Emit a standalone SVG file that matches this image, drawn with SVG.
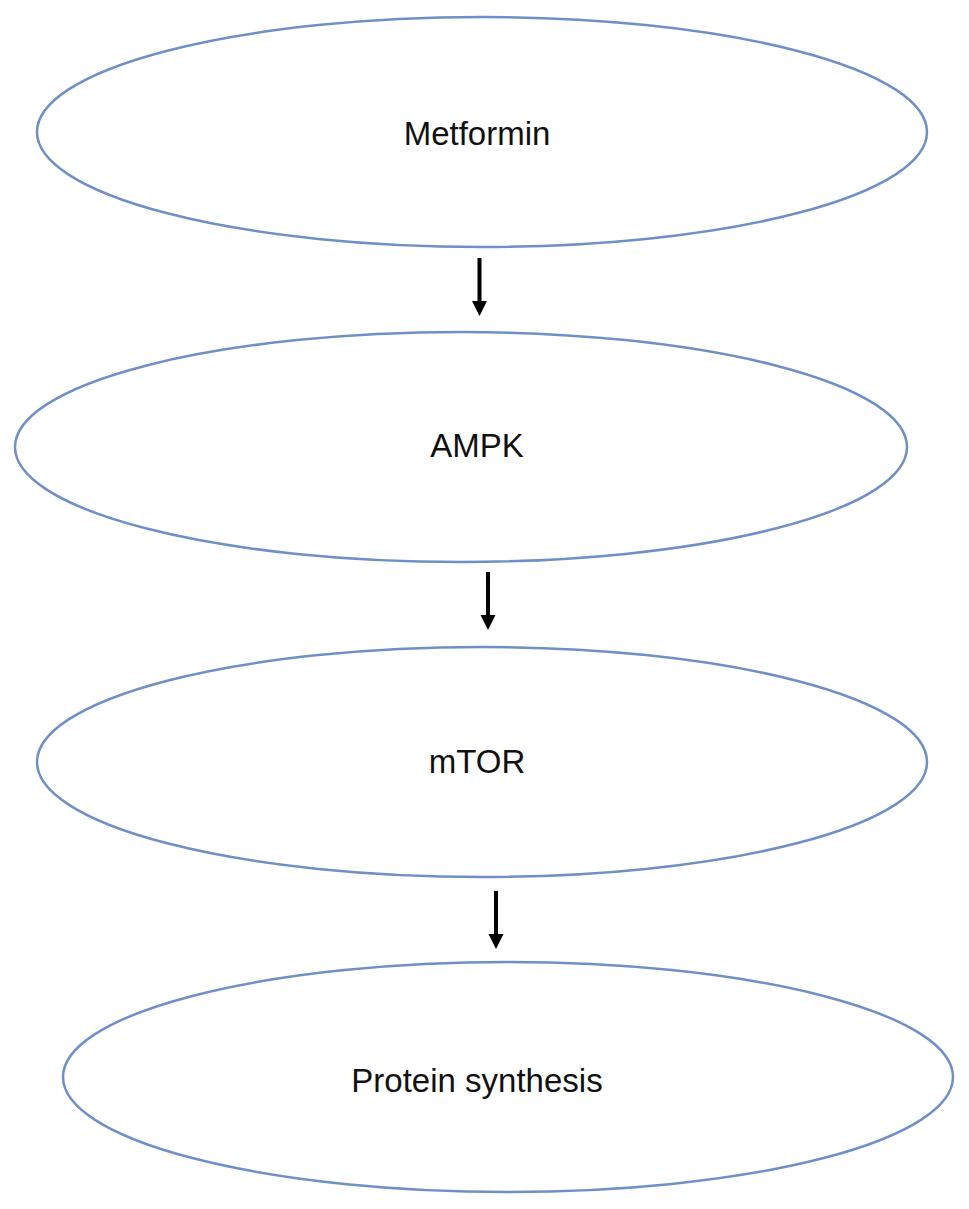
<svg xmlns="http://www.w3.org/2000/svg" width="969" height="1209" viewBox="0 0 969 1209">
  <defs>
    <style>
      .node ellipse { fill: #ffffff; stroke: #6f8fc6; stroke-width: 2.5; }
      .node text { font-family: "Liberation Sans", Arial, sans-serif; font-size: 33px; fill: #111111; text-anchor: middle; }
      .conn line { stroke: #000000; stroke-width: 4; }
      .conn polygon { fill: #000000; }
    </style>
  </defs>
  <rect width="969" height="1209" fill="#ffffff"/>
  <g id="metformin" class="node">
    <ellipse cx="482" cy="132" rx="445" ry="115"/>
    <text x="477" y="145">Metformin</text>
  </g>
  <g id="ampk" class="node">
    <ellipse cx="461" cy="447" rx="446" ry="115"/>
    <text x="477" y="457">AMPK</text>
  </g>
  <g id="mtor" class="node">
    <ellipse cx="482" cy="762" rx="445" ry="115"/>
    <text x="477" y="773">mTOR</text>
  </g>
  <g id="protein" class="node">
    <ellipse cx="508" cy="1077" rx="445" ry="115"/>
    <text x="477" y="1092">Protein synthesis</text>
  </g>
  <g id="connectors" class="conn">
    <line x1="479.5" y1="258" x2="479.5" y2="303"/>
    <polygon points="472,301 487,301 479.5,316"/>
    <line x1="488" y1="572" x2="488" y2="617"/>
    <polygon points="480.5,615 495.5,615 488,630"/>
    <line x1="496" y1="891" x2="496" y2="936"/>
    <polygon points="488.5,934 503.5,934 496,949"/>
  </g>
</svg>
